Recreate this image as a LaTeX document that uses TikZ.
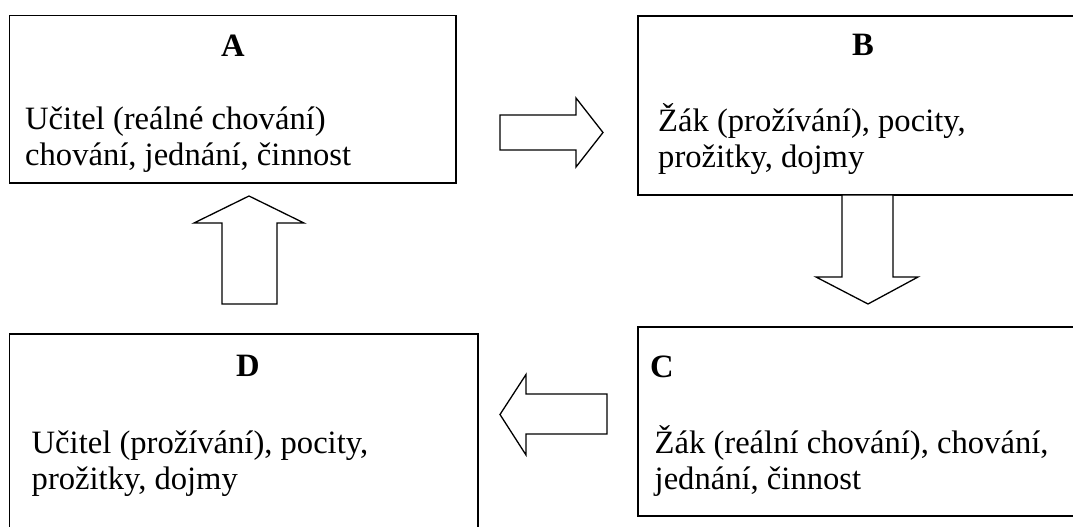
\documentclass[tikz,border=0pt]{standalone}
\usepackage{fontspec}
\setmainfont{Liberation Serif}
\begin{document}
\begin{tikzpicture}[x=1pt,y=-1pt,
  boxstyle/.style={draw=black,line width=1.3pt},
  blockarrow/.style={draw=black,line width=1.3pt,fill=white,line join=miter},
  bodytext/.style={anchor=base west,inner sep=0pt,font=\fontsize{32.6}{36.4}\selectfont},
  titletext/.style={anchor=base,inner sep=0pt,font=\fontsize{32.6}{36.4}\selectfont\bfseries}]
\useasboundingbox (0,0) rectangle (1073,527);
\clip (0,0) rectangle (1073,527);
\fill[white] (0,0) rectangle (1073,527);
% boxes
\draw[boxstyle] (9.5,15.7) rectangle (456,183);
\draw[boxstyle] (638,16) rectangle (1090,195);
\draw[boxstyle] (638,327) rectangle (1090,516);
\draw[boxstyle] (9.3,334) rectangle (478,545);
% titles
\node[titletext] (tA) at (233,56.5) {A};
\node[titletext] (tB) at (863,55.5) {B};
\node[titletext] (tD) at (248,376.5) {D};
\node[titletext,anchor=base west] (tC) at (650,377) {C};
% body texts
\node[bodytext] (a1) at (25,129) {Učitel (reálné chování)};
\node[bodytext] (a2) at (25,165.5) {chování, jednání, činnost};
\node[bodytext] (b1) at (658,131) {Žák (prožívání), pocity,};
\node[bodytext] (b2) at (658,167) {prožitky, dojmy};
\node[bodytext] (c1) at (654.5,453) {Žák (reální chování), chování,};
\node[bodytext] (c2) at (654.5,489.5) {jednání, činnost};
\node[bodytext] (d1) at (31.5,453) {Učitel (prožívání), pocity,};
\node[bodytext] (d2) at (31.5,489.5) {prožitky, dojmy};
% block arrows
\draw[blockarrow] (500,115) -- (576,115) -- (576,98) -- (603,132.5) -- (576,167) -- (576,150) -- (500,150) -- cycle;
\draw[blockarrow] (842,195) -- (893,195) -- (893,277) -- (918,277) -- (868,304) -- (816,277) -- (842,277) -- cycle;
\draw[blockarrow] (222,304) -- (277,304) -- (277,223) -- (304,223) -- (249,196) -- (194,223) -- (222,223) -- cycle;
\draw[blockarrow] (607,394) -- (526,394) -- (526,374.5) -- (500,414.5) -- (526,455) -- (526,434) -- (607,434) -- cycle;
\end{tikzpicture}
\end{document}
